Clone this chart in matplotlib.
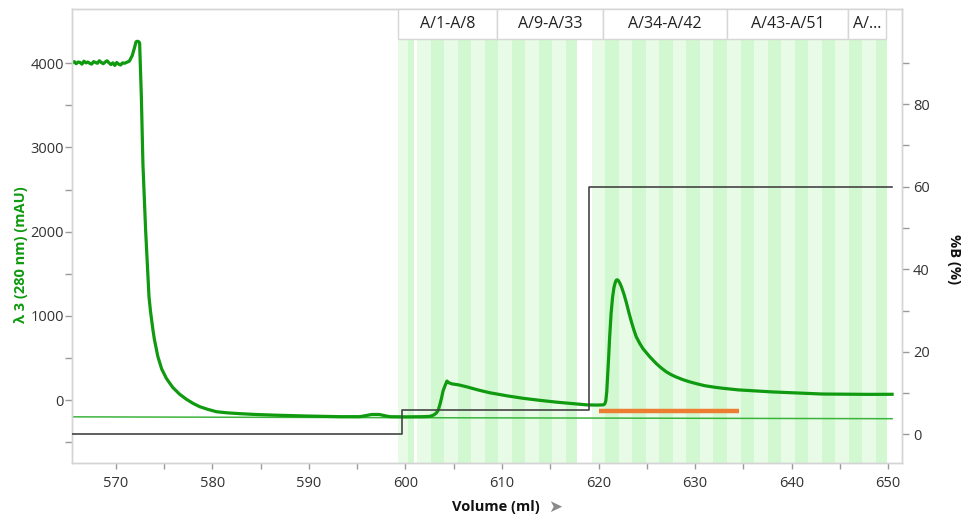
import matplotlib
matplotlib.use("Agg")
import matplotlib.pyplot as plt
from matplotlib.patches import Rectangle
import matplotlib.transforms as mtransforms
from matplotlib.ticker import FixedLocator

plt.rcParams['font.family'] = ['Open Sans', 'DejaVu Sans']

# ---------------- data ----------------
uv_vol = [565.5, 565.7, 565.9, 566.1, 566.3, 566.5, 566.7, 566.9, 567.1, 567.3,
          567.5, 567.7, 567.9, 568.1, 568.3, 568.5, 568.7, 568.9, 569.1, 569.3,
          569.5, 569.7, 569.9, 570.1, 570.3, 570.5, 570.7, 570.9,
          571.1, 571.4, 571.7, 571.95, 572.1, 572.25, 572.4, 572.47, 572.65, 572.81,
          573.09, 573.44, 573.6, 573.85, 574.0, 574.35, 574.75, 575.25, 575.9, 576.6,
          577.3, 578.0, 578.69, 579.5, 580.42, 581.5, 582.8, 584.5, 586.5, 589.7,
          593.2, 595.3, 595.9, 596.5, 597.3, 598.0, 598.4, 600.0, 601.8, 602.5,
          602.9, 603.2, 603.4, 603.6, 603.75, 603.9, 604.1, 604.3, 604.5, 604.8,
          605.5, 606.3, 607.5, 608.7, 610.5, 612.2, 614.0, 615.6, 617.5, 618.8,
          619.8, 620.5, 620.65, 620.75, 620.85, 620.95, 621.05, 621.15, 621.3, 621.45,
          621.6, 621.75, 621.85, 621.95, 622.05, 622.2, 622.4, 622.65, 622.9, 623.15,
          623.4, 623.65, 623.9, 624.25, 624.6, 625.3, 626.0, 626.5, 627.0, 627.5,
          628.0, 628.7, 629.4, 630.2, 631.0, 632.0, 632.9, 634.5, 636.3, 638.0,
          639.8, 641.5, 643.2, 646.0, 648.0, 650.4]
uv_mau = [4005, 4020, 3995, 4015, 4010, 3990, 4025, 4005, 4015, 4000,
          3990, 4020, 4010, 4000, 4030, 4010, 3995, 4015, 4030, 4005,
          3985, 4005, 3975, 4010, 3990, 3980, 4005, 4000,
          4010, 4025, 4090, 4190, 4255, 4262, 4255, 4240, 3603, 2812,
          2020, 1227, 1050, 832, 720, 520, 370, 255, 150, 70,
          10, -40, -79, -110, -139, -152, -162, -172, -180, -190,
          -198, -198, -185, -172, -172, -190, -198, -200, -198, -195,
          -180, -155, -120, -40, 30, 110, 170, 225, 205, 192,
          180, 158, 120, 87, 50, 20, -5, -25, -45, -58,
          -60, -58, -45, -10, 100, 300, 520, 750, 1030, 1220,
          1340, 1405, 1425, 1428, 1418, 1390, 1335, 1250, 1148, 1035,
          930, 835, 752, 675, 610, 514, 430, 380, 336, 302,
          275, 243, 217, 192, 170, 152, 139, 120, 107, 96,
          87, 78, 71, 68, 67, 68]

thin_vol = [565.5, 600.0, 650.4]
thin_mau = [-200, -210, -222]

b_vol = [565.5, 599.6, 599.6, 619.0, 619.0, 650.4]
b_pct = [0, 0, 6, 6, 60, 60]

orange_vol = [620.0, 634.5]
orange_mau = [-131, -131]

# fraction stripes (edges in ml), each group starts with a light stripe
frac_groups = [
    [599.2, 600.3, 600.9],
    [601.2, 602.6, 604.0, 605.4, 606.8, 608.2, 609.6, 611.0, 612.4, 613.8,
     615.2, 616.6, 617.8],
    [619.3, 620.7, 622.1, 623.5, 624.9, 626.3, 627.7, 629.1, 630.5, 631.9,
     633.3, 634.7, 636.1, 637.5, 638.9, 640.3, 641.7, 643.1, 644.5, 645.9,
     647.3, 648.7, 649.9],
]
box_edges = [599.2, 609.5, 620.5, 633.3, 645.8, 649.8]
box_labels = ["A/1-A/8", "A/9-A/33", "A/34-A/42", "A/43-A/51", "A/..."]

x_major = [570, 580, 590, 600, 610, 620, 630, 640, 650]
x_minor = [575, 585, 595, 605, 615, 625, 635, 645]
yl_major = [0, 1000, 2000, 3000, 4000]
yl_minor = [-500, 500, 1500, 2500, 3500]
yr_major = [0, 20, 40, 60, 80]
yr_minor = [10, 30, 50, 70, 90]

# ---------------- figure ----------------
fig = plt.figure(figsize=(9.63, 5.19), dpi=100)
ax = fig.add_axes([0.0751, 0.1073, 0.8613, 0.8747])
ax2 = ax.twinx()

ax.set_xlim(565.5, 651.4)
ax.set_ylim(-752, 4641)
ax2.set_ylim(-7.03, 103.0)

frame_col = "#d4d4d4"
tick_col = "#9a9a9a"
lab_col = "#333333"
light = "#e7fbe7"
dark = "#d1f8d1"

trans = mtransforms.blended_transform_factory(ax.transData, ax.transAxes)
hdr_bottom = 0.934
for g in frac_groups:
    for i in range(len(g) - 1):
        ax.add_patch(Rectangle((g[i], 0), g[i + 1] - g[i], hdr_bottom,
                               transform=trans, facecolor=light if i % 2 == 0 else dark,
                               edgecolor="none", zorder=0))

trans2 = mtransforms.blended_transform_factory(ax2.transData, ax2.transAxes)
for i, lab in enumerate(box_labels):
    ax2.add_patch(Rectangle((box_edges[i], hdr_bottom), box_edges[i + 1] - box_edges[i],
                            1 - hdr_bottom, transform=trans2, facecolor="white",
                            edgecolor="#d6d6d6", lw=1.0, zorder=5, clip_on=False))
    ax2.text((box_edges[i] + box_edges[i + 1]) / 2, (hdr_bottom + 1) / 2, lab,
             transform=trans2, ha="center", va="center", fontsize=11.5,
             color="#222222", zorder=6)

ax.plot(thin_vol, thin_mau, color="#3cb43c", lw=1.1, zorder=2)
ax.plot(uv_vol, uv_mau, color="#0f9a0f", lw=2.3, zorder=3, solid_joinstyle="round")
ax2.plot(b_vol, b_pct, color="#444444", lw=1.2, zorder=3)
ax.plot(orange_vol, orange_mau, color="#ed7d31", lw=3.2, zorder=4, solid_capstyle="butt")

# ticks
ax.xaxis.set_major_locator(FixedLocator(x_major))
ax.xaxis.set_minor_locator(FixedLocator(x_minor))
ax.yaxis.set_major_locator(FixedLocator(yl_major))
ax.yaxis.set_minor_locator(FixedLocator(yl_minor))
ax2.yaxis.set_major_locator(FixedLocator(yr_major))
ax2.yaxis.set_minor_locator(FixedLocator(yr_minor))

for a in (ax, ax2):
    for s in a.spines.values():
        s.set_color(frame_col)
        s.set_linewidth(1.0)
    a.tick_params(which="both", direction="out", color=tick_col, width=1.0,
                  labelsize=10.5, labelcolor=lab_col, length=5)
    a.tick_params(which="minor", length=5)

ax.tick_params(axis="x", which="both", length=4, pad=5)
ax.tick_params(axis="y", pad=1)
ax2.tick_params(axis="y", pad=3)

ax.set_xlabel("Volume (ml)", fontsize=10.5, fontweight="bold", color="#111111")
ax.xaxis.set_label_coords(0.511, -0.096)
ax.xaxis.label.set_va("center")
fig.text(555 / 963, 1 - 507 / 519, "\u27A4", fontsize=12, color="#8a8a8a",
         ha="center", va="center", family=["DejaVu Sans"])

ax.set_ylabel("\u03bb 3 (280 nm) (mAU)", fontsize=10.5, fontweight="bold", color="#0f9a0f")
ax.yaxis.set_label_coords(-0.053, 0.46)
ax2.set_ylabel("%B (%)", fontsize=10.5, fontweight="bold", color="#111111", rotation=270)
ax2.yaxis.set_label_coords(1.0715, 0.45)

fig.savefig("out.png", dpi=100)
